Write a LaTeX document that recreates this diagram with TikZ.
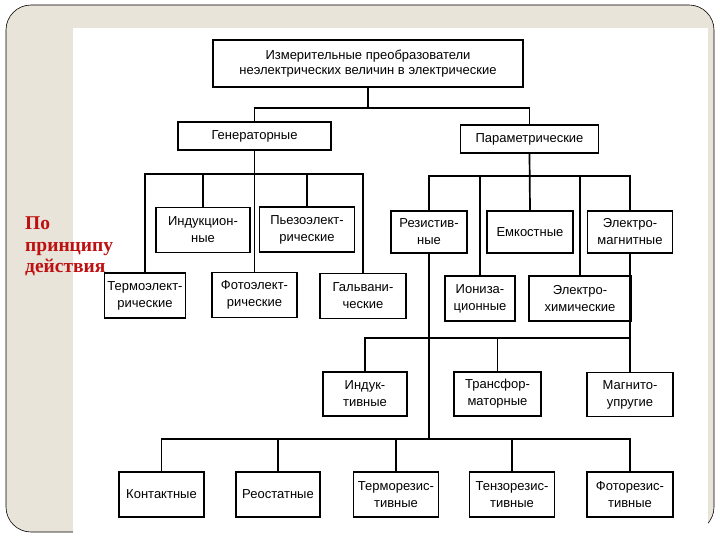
\documentclass[tikz,border=0pt]{standalone}
\usepackage{fontspec}
\setmainfont{Liberation Sans}
\newfontfamily\redserif{Liberation Serif}
\definecolor{slidebg}{RGB}{232,228,218}
\definecolor{labelred}{RGB}{190,16,16}

\begin{document}
\begin{tikzpicture}[x=1pt,y=-1pt,
    box/.style={draw, line width=1.7pt, align=center, inner sep=1pt,
        font=\fontsize{13}{17}\selectfont, minimum height=45pt},
    link/.style={line width=1.7pt}]
        % Slide frame
        \useasboundingbox (0,0) rectangle (720,540);
        \fill[white] (0,0) rectangle (720,540);
        \draw[fill=slidebg, rounded corners=25pt, line width=0.6pt] (6,5) rectangle (714,532);
        \fill[white] (73,28) rectangle (708,540);

        % Label on the left
        \node[anchor=north west, align=left, inner sep=0, text=labelred,
            font=\redserif\bfseries\fontsize{19.5}{21.5}\selectfont] (principle) at (25,217) {По\\принципу\\действия};

        % Top levels
        \node[box, minimum width=310pt, minimum height=47pt, font=\fontsize{13}{15.5}\selectfont] (top) at (368,63.5)
            {Измерительные преобразователи\\неэлектрических величин в электрические};
        \node[box, minimum width=153pt, minimum height=28pt] (gen) at (254.5,136) {Генераторные};
        \node[box, minimum width=138pt, minimum height=28pt] (par) at (529.5,139) {Параметрические};

        % Generator group
        \node[box, minimum width=81pt] (termo) at (145,295.5) {Термоэлект-\\рические};
        \node[box, minimum width=94pt] (induc) at (203,230) {Индукцион-\\ные};
        \node[box, minimum width=85pt] (photo) at (254.5,295) {Фотоэлект-\\рические};
        \node[box, minimum width=95pt] (piezo) at (307,229.5) {Пьезоэлект-\\рические};
        \node[box, minimum width=86pt] (galv) at (363,296) {Гальвани-\\ческие};

        % Parametric group
        \node[box, minimum width=76pt, minimum height=42pt] (resist) at (429,232) {Резистив-\\ные};
        \node[box, minimum width=86pt, minimum height=42pt] (capac) at (530,232) {Емкостные};
        \node[box, minimum width=85pt, minimum height=42pt] (emag) at (630,232) {Электро-\\магнитные};
        \node[box, minimum width=70pt] (ioniz) at (480,298.5) {Иониза-\\ционные};
        \node[box, minimum width=102pt] (echem) at (580,298.5) {Электро-\\химические};

        % Electromagnetic group
        \node[box, minimum width=84pt, minimum height=44pt] (induct) at (365,394) {Индук-\\тивные};
        \node[box, minimum width=87pt, minimum height=44pt] (transf) at (497.5,394) {Трансфор-\\маторные};
        \node[box, minimum width=86pt, minimum height=44pt] (magel) at (630,394.5) {Магнито-\\упругие};

        % Resistive group
        \node[box, minimum width=85pt] (contact) at (161.5,494.5) {Контактные};
        \node[box, minimum width=84pt] (rheo) at (278,494.5) {Реостатные};
        \node[box, minimum width=85pt] (thermr) at (396,494.5) {Терморезис-\\тивные};
        \node[box, minimum width=85pt] (tensr) at (512,494.5) {Тензорезис-\\тивные};
        \node[box, minimum width=86pt] (photr) at (630,494.5) {Фоторезис-\\тивные};

        % Bus points
        \coordinate (bus0) at (368,108);
        \coordinate (bus1) at (254.5,174);
        \coordinate (bus2) at (529.5,176);
        \coordinate (bus3) at (630,338);
        \coordinate (bus4) at (429,439);

        % Connectors
        \draw[link] (top.south) -- (bus0);
        \draw[link] (gen.north) |- (bus0) -| (par.north);

        \draw[link] (gen.south) -- (photo.north);
        \draw[link] (termo.north) |- (bus1) -| (galv.north);
        \draw[link] (induc.north) -- (induc.north |- bus1);
        \draw[link] (piezo.north) -- (piezo.north |- bus1);

        \draw[link] (par.south) -- (capac.north);
        \draw[link] (resist.north) |- (bus2) -| (emag.north);
        \draw[link] (ioniz.north) -- (ioniz.north |- bus2);
        \draw[link] (echem.north) -- (echem.north |- bus2);

        \draw[link] (emag.south) -- (magel.north);
        \draw[link] (induct.north) |- (bus3);
        \draw[link] (transf.north) -- (transf.north |- bus3);

        \draw[link] (resist.south) -- (bus4);
        \draw[link] (contact.north) |- (bus4) -| (photr.north);
        \draw[link] (rheo.north) -- (rheo.north |- bus4);
        \draw[link] (thermr.north) -- (thermr.north |- bus4);
        \draw[link] (tensr.north) -- (tensr.north |- bus4);
\end{tikzpicture}
\end{document}
